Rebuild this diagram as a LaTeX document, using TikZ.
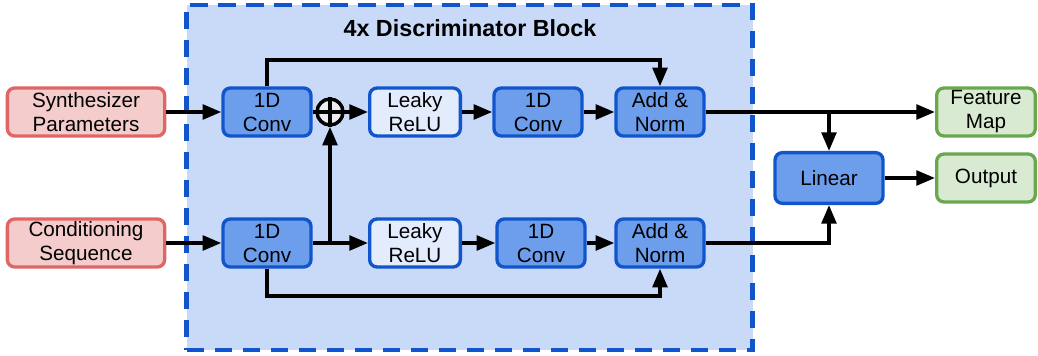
\documentclass[tikz,border=0pt]{standalone}
\usepackage{fontspec}
\setmainfont{Liberation Sans}
\usetikzlibrary{arrows.meta}
\definecolor{redfill}{HTML}{F4CCCC}
\definecolor{redline}{HTML}{E06666}
\definecolor{bluefill}{HTML}{6D9EEB}
\definecolor{blueline}{HTML}{1155CC}
\definecolor{lightfill}{HTML}{E3ECFC}
\definecolor{greenfill}{HTML}{D9EAD3}
\definecolor{greenline}{HTML}{6AA84F}
\definecolor{blockfill}{HTML}{C9DAF8}
\begin{document}
\begin{tikzpicture}[x=0.75pt,y=-0.75pt,
  box/.style={rounded corners=5.5pt, line width=2.5pt, align=center, inner sep=0pt,
    font=\fontsize{15.5}{18}\selectfont},
  redbox/.style={box, draw=redline, fill=redfill, minimum width=118pt, minimum height=36pt},
  bluebox/.style={box, draw=blueline, fill=bluefill, minimum width=66pt, minimum height=36pt},
  lightbox/.style={box, draw=blueline, fill=lightfill, minimum width=68pt, minimum height=36pt},
  greenbox/.style={box, draw=greenline, fill=greenfill, minimum width=74pt, minimum height=36pt},
  conn/.style={line width=2.7pt, draw=black},
  arr/.style={conn, -{Triangle[length=14pt, width=11pt]}},
]
\useasboundingbox (0,0) rectangle (1038,356);
% block
\node[draw=blueline, fill=blockfill, line width=3.2pt, dash pattern=on 13pt off 8pt,
  minimum width=424.5pt, minimum height=258.75pt, inner sep=0pt] (block) at (469.5,177.5) {};
\node[font=\bfseries\fontsize{17.5}{20}\selectfont] (title) at (470,28) {4x Discriminator Block};
% nodes
\node[redbox] (sp) at (86,112) {Synthesizer\\Parameters};
\node[redbox] (cs) at (86,243) {Conditioning\\Sequence};
\node[bluebox] (c1) at (267,112) {1D\\Conv};
\node[bluebox] (c2) at (267,243) {1D\\Conv};
\node[draw=black, fill=black!7, circle, line width=2.6pt, minimum size=19.5pt, inner sep=0pt] (plus) at (330,112) {};
\draw[line width=2.4pt] (plus.north) -- (plus.south) (plus.west) -- (plus.east);
\node[lightbox] (lr1) at (415,112) {Leaky\\ReLU};
\node[lightbox] (lr2) at (415,243) {Leaky\\ReLU};
\node[bluebox] (d1) at (538,112) {1D\\Conv};
\node[bluebox] (d2) at (541,243) {1D\\Conv};
\node[bluebox] (an1) at (660,112) {Add \&\\Norm};
\node[bluebox] (an2) at (660,243) {Add \&\\Norm};
\node[greenbox] (fm) at (986,112) {Feature\\Map};
\node[greenbox] (out) at (986,178) {Output};
\node[bluebox, minimum width=81pt, minimum height=38pt] (lin) at (829,178) {Linear};
\coordinate (j1) at (330,243);
\coordinate (j2) at (829,112);
% connectors
\draw[arr] (sp) -- (c1);
\draw[arr] (cs) -- (c2);
\draw[conn] (c1) -- (plus);
\draw[arr] (plus) -- (lr1);
\draw[arr] (lr1) -- (d1);
\draw[arr] (d1) -- (an1);
\draw[arr] (c2) -- (lr2);
\draw[arr] (j1) -- (plus);
\draw[arr] (lr2) -- (d2);
\draw[arr] (d2) -- (an2);
\draw[arr] (c1.north) |- (660,60) -- (an1.north);
\draw[arr] (c2.south) |- (660,296) -- (an2.south);
\draw[arr] (an1) -- (fm);
\draw[arr] (j2) -- (lin);
\draw[arr] (an2) -| (lin.south);
\draw[arr] (lin) -- (out);
\end{tikzpicture}
\end{document}
